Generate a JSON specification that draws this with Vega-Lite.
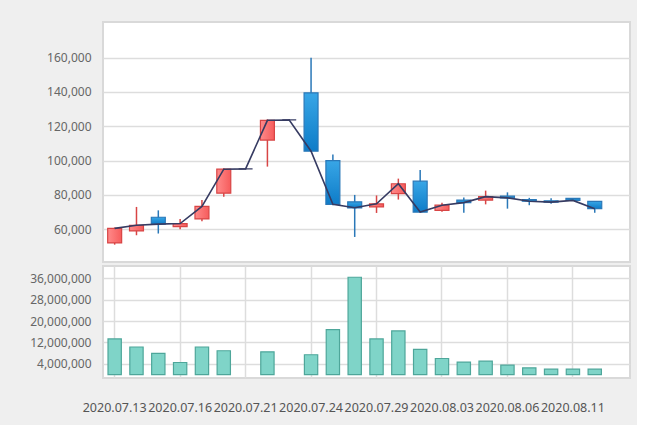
{
  "$schema": "https://vega.github.io/schema/vega-lite/v6.json",
  "background": "#efefef",
  "padding": {"left": 28, "top": 21, "right": 6, "bottom": 10},
  "spacing": 2,
  "config": {
    "font": "Noto Sans",
    "view": {"fill": "#ffffff", "stroke": "#d9d9d9", "strokeWidth": 2},
    "axis": {"labelFont": "Noto Sans", "labelFontSize": 12, "labelColor": "#666666", "gridColor": "#dddddd", "gridWidth": 1.5, "domain": false, "ticks": false, "title": null}
  },
  "data": {"values": [
    {"date": "2020.07.13", "open": 52000, "high": 61000, "low": 51000, "close": 60500, "volume": 13300000},
    {"date": "2020.07.14", "open": 59000, "high": 73000, "low": 56500, "close": 62300, "volume": 10300000},
    {"date": "2020.07.15", "open": 67000, "high": 71000, "low": 57500, "close": 63000, "volume": 7900000},
    {"date": "2020.07.16", "open": 61500, "high": 66000, "low": 60000, "close": 63300, "volume": 4500000},
    {"date": "2020.07.17", "open": 66000, "high": 77000, "low": 64700, "close": 73300, "volume": 10300000},
    {"date": "2020.07.20", "open": 81000, "high": 95500, "low": 79000, "close": 95000, "volume": 8900000},
    {"date": "2020.07.21", "open": 95200, "high": 95400, "low": 95000, "close": 95200, "volume": null},
    {"date": "2020.07.22", "open": 112000, "high": 124000, "low": 96500, "close": 123500, "volume": 8500000},
    {"date": "2020.07.23", "open": 123700, "high": 124000, "low": 123300, "close": 123700, "volume": null},
    {"date": "2020.07.24", "open": 139500, "high": 160000, "low": 105000, "close": 105500, "volume": 7400000},
    {"date": "2020.07.27", "open": 100000, "high": 103500, "low": 74000, "close": 74500, "volume": 16800000},
    {"date": "2020.07.28", "open": 76000, "high": 80000, "low": 55500, "close": 72500, "volume": 36400000},
    {"date": "2020.07.29", "open": 73000, "high": 79700, "low": 69500, "close": 74800, "volume": 13300000},
    {"date": "2020.07.30", "open": 80700, "high": 89500, "low": 77300, "close": 86500, "volume": 16300000},
    {"date": "2020.07.31", "open": 88000, "high": 94500, "low": 70000, "close": 70000, "volume": 9400000},
    {"date": "2020.08.03", "open": 71000, "high": 75500, "low": 70200, "close": 74000, "volume": 6000000},
    {"date": "2020.08.04", "open": 77000, "high": 78500, "low": 69600, "close": 75500, "volume": 4650000},
    {"date": "2020.08.05", "open": 77000, "high": 82500, "low": 74500, "close": 79000, "volume": 5000000},
    {"date": "2020.08.06", "open": 79300, "high": 81500, "low": 72000, "close": 78300, "volume": 3500000},
    {"date": "2020.08.07", "open": 77300, "high": 78300, "low": 74000, "close": 76300, "volume": 2500000},
    {"date": "2020.08.10", "open": 76600, "high": 78000, "low": 74800, "close": 75800, "volume": 2000000},
    {"date": "2020.08.11", "open": 78000, "high": 78200, "low": 76500, "close": 76800, "volume": 2000000},
    {"date": "2020.08.12", "open": 76200, "high": 76300, "low": 69600, "close": 72000, "volume": 2000000}
  ]},
  "resolve": {"scale": {"x": "shared"}},
  "vconcat": [
    {
      "width": 527,
      "height": 240,
      "encoding": {
        "x": {"field": "date", "type": "ordinal", "scale": {"type": "band", "paddingInner": 0, "paddingOuter": 0.575, "align": 0.03}, "axis": null}
      },
      "layer": [
        {
          "mark": {"type": "rule", "strokeWidth": 1.5},
          "encoding": {
            "y": {"field": "low", "type": "quantitative", "scale": {"domain": [40900, 180800], "nice": false, "zero": false},
                  "axis": {"values": [60000, 80000, 100000, 120000, 140000, 160000], "format": ",d", "labelPadding": 12, "grid": true}},
            "y2": {"field": "high"},
            "color": {"condition": [
              {"test": "datum.close > datum.open", "value": "#d84545"},
              {"test": "datum.close < datum.open", "value": "#2a78b8"}
            ], "value": "#3a3f66"}
          }
        },
        {
          "mark": {"type": "bar", "width": {"band": 0.64}, "strokeWidth": 1.2},
          "encoding": {
            "y": {"field": "open", "type": "quantitative"},
            "y2": {"field": "close"},
            "fill": {"condition": [
              {"test": "datum.close > datum.open", "value": {"gradient": "linear", "x1": 0, "y1": 0, "x2": 1, "y2": 0, "stops": [{"offset": 0, "color": "#ff8a8a"}, {"offset": 1, "color": "#f65c5c"}]}},
              {"test": "datum.close < datum.open", "value": {"gradient": "linear", "x1": 0, "y1": 0, "x2": 0, "y2": 1, "stops": [{"offset": 0, "color": "#38a6e6"}, {"offset": 1, "color": "#0e7cc8"}]}}
            ], "value": "#3a3f66"},
            "stroke": {"condition": [
              {"test": "datum.close > datum.open", "value": "#d84545"},
              {"test": "datum.close < datum.open", "value": "#2a78b8"}
            ], "value": "#3a3f66"}
          }
        },
        {
          "mark": {"type": "line", "color": "#363b62", "strokeWidth": 1.6, "interpolate": "linear"},
          "encoding": {
            "y": {"field": "close", "type": "quantitative"}
          }
        }
      ]
    },
    {
      "width": 527,
      "height": 112,
      "mark": {"type": "bar", "width": {"band": 0.61}, "fill": "#7fd4c8", "stroke": "#4ea69a", "strokeWidth": 1.2},
      "encoding": {
        "x": {"field": "date", "type": "ordinal", "scale": {"type": "band", "paddingInner": 0, "paddingOuter": 0.575, "align": 0.03},
              "axis": {"values": ["2020.07.13", "2020.07.16", "2020.07.21", "2020.07.24", "2020.07.29", "2020.08.03", "2020.08.06", "2020.08.11"], "labelAngle": 0, "labelPadding": 23, "labelOverlap": false, "labelFontSize": 12.5, "labelColor": "#555555", "grid": true, "bandPosition": 0.5}},
        "y": {"field": "volume", "type": "quantitative", "scale": {"domain": [-1300000, 40600000], "nice": false, "zero": false},
              "axis": {"values": [4000000, 12000000, 20000000, 28000000, 36000000], "format": ",d", "labelPadding": 12, "grid": true}}
      }
    }
  ]
}
